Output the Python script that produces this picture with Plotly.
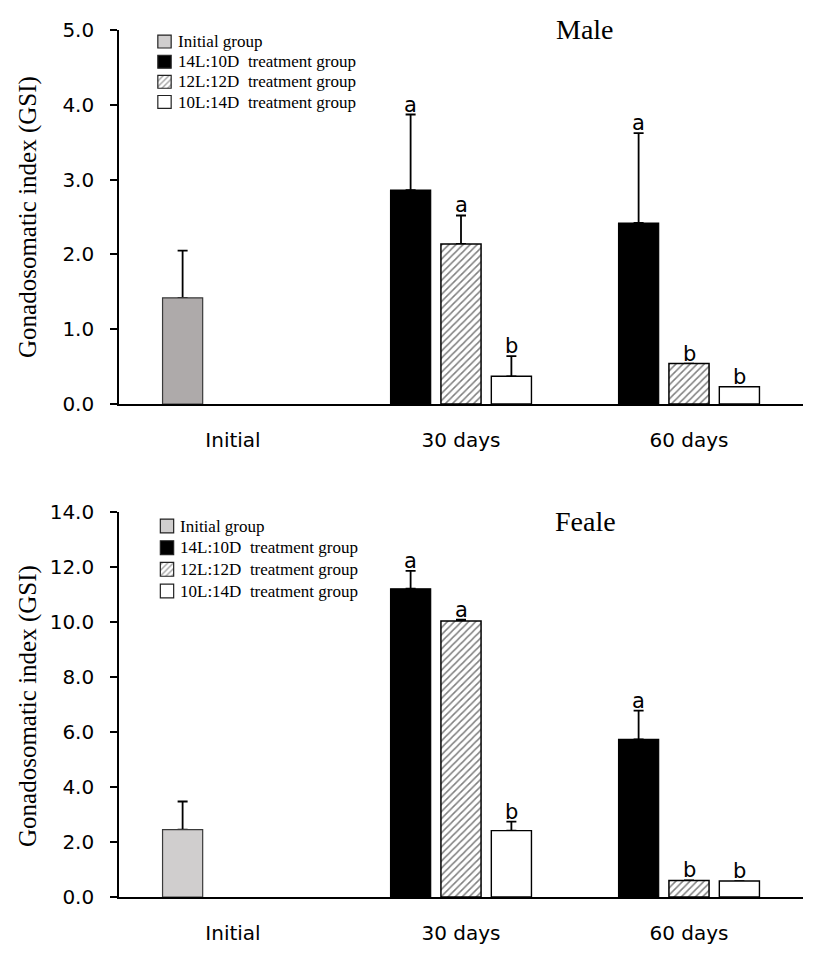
import plotly.graph_objects as go

categories = ["Initial", "30 days", "60 days"]
series_names = ["Initial group", "14L:10D  treatment group", "12L:12D  treatment group", "10L:14D  treatment group"]

# Male GSI
male_initial = [1.42]
male_initial_err = [0.63]
male_14L = [None, 2.86, 2.42]
male_14L_err = [0, 1.01, 1.20]
male_12L = [None, 2.14, 0.54]
male_12L_err = [0, 0.38, 0.0]
male_10L = [None, 0.37, 0.23]
male_10L_err = [0, 0.27, 0.0]
male_letters_14L = [None, "a", "a"]
male_letters_12L = [None, "a", "b"]
male_letters_10L = [None, "b", "b"]

# Female GSI
fem_initial = [2.45]
fem_initial_err = [1.02]
fem_14L = [None, 11.20, 5.73]
fem_14L_err = [0, 0.65, 1.04]
fem_12L = [None, 10.03, 0.60]
fem_12L_err = [0, 0.05, 0.0]
fem_10L = [None, 2.41, 0.58]
fem_10L_err = [0, 0.33, 0.0]
fem_letters_14L = [None, "a", "a"]
fem_letters_12L = [None, "a", "b"]
fem_letters_10L = [None, "b", "b"]

legend_rows = [0, 1, 2, 3]
legend_ones = [1, 1, 1, 1]

# page body has an 8px margin; figure fills the remaining area
OFF = 8
W, H = 827 - 2 * OFF, 961 - 2 * OFF


def px(x):
    return (x - OFF) / W


def py(y):
    return 1 - (y - OFF) / H


pos = [0, 1, 2]
slot = [-0.221, 0.0, 0.221]
bw = 0.176

fig = go.Figure()
err_style = dict(type="data", symmetric=False, color="black", thickness=1.8, width=5)
letter_font = dict(family="DejaVu Sans", size=21, color="black")


def add_bar(xs, ys, errs, marker, name, xa, ya):
    # invisible carrier of the (plus-only) error bars, drawn beneath the visible bar
    fig.add_trace(go.Bar(x=xs, y=ys, width=bw, showlegend=False, hoverinfo="skip",
                         marker=dict(color="rgba(0,0,0,0)", line=dict(width=0)),
                         error_y=dict(array=errs, arrayminus=[0] * len(xs), **err_style),
                         xaxis=xa, yaxis=ya))
    fig.add_trace(go.Bar(x=xs, y=ys, width=bw, name=name, marker=marker, showlegend=False,
                         xaxis=xa, yaxis=ya))


def add_panel(xa, ya, init_v, init_e, init_color, s14, e14, s12, e12, s10, e10, l14, l12, l10):
    add_bar([pos[0] + slot[0]], init_v, init_e,
            dict(color=init_color, line=dict(color="#3a3a3a", width=1.2)), series_names[0], xa, ya)
    specs = [
        (s14, e14, l14, slot[0], dict(color="black", line=dict(color="black", width=1.2)), series_names[1]),
        (s12, e12, l12, slot[1], dict(color="white", line=dict(color="black", width=1.5),
                                      pattern=dict(shape="/", fgcolor="black", bgcolor="white", size=5, solidity=0.3)),
         series_names[2]),
        (s10, e10, l10, slot[2], dict(color="white", line=dict(color="black", width=1.4)), series_names[3]),
    ]
    yref = ya.replace("axis", "")
    for vals, errs, letters, off, mk, nm in specs:
        xs = [p + off for p in pos[1:]]
        add_bar(xs, vals[1:], errs[1:], mk, nm, xa, ya)
        for x, v, e, t in zip(xs, vals[1:], errs[1:], letters[1:]):
            if t:
                fig.add_annotation(x=x, y=v + e, text=t, showarrow=False, xref=xa, yref=yref,
                                   yanchor="bottom", yshift=-4, font=letter_font)


add_panel("x", "y", male_initial, male_initial_err, "#aeaaaa",
          male_14L, male_14L_err, male_12L, male_12L_err, male_10L, male_10L_err,
          male_letters_14L, male_letters_12L, male_letters_10L)
add_panel("x2", "y2", fem_initial, fem_initial_err, "#d0cece",
          fem_14L, fem_14L_err, fem_12L, fem_12L_err, fem_10L, fem_10L_err,
          fem_letters_14L, fem_letters_12L, fem_letters_10L)

# legend swatches drawn as small bars on auxiliary axes
sw_colors = ["#d0cece", "black", "white", "white"]
sw_patterns = ["", "", "/", ""]
for xa, ya in [("x3", "y3"), ("x4", "y4")]:
    fig.add_trace(go.Bar(y=legend_rows, x=legend_ones, orientation="h", width=0.64, showlegend=False,
                         hoverinfo="skip",
                         marker=dict(color=sw_colors, line=dict(color="#222222", width=1.2),
                                     pattern=dict(shape=sw_patterns, fgcolor="#222222", bgcolor="white",
                                                  size=4, solidity=0.35)),
                         xaxis=xa, yaxis=ya))

leg_font = dict(family="Liberation Serif", size=17, color="black")
for (x0, y0, y1) in [(176, 41.5, 102), (178, 526, 591)]:
    step = (y1 - y0) / 3
    for i, nm in enumerate(series_names):
        fig.add_annotation(text=nm, x=px(x0), y=py(y0 + i * step), xref="paper", yref="paper", showarrow=False,
                           xanchor="left", yanchor="middle", font=leg_font)

tickfont = dict(family="DejaVu Sans", size=20, color="black")
xd = [px(119), px(803)]
xcommon = dict(range=[-0.5, 2.5], tickvals=pos, ticktext=categories, showline=True, linecolor="black",
               linewidth=1.6, ticks="", showgrid=False, zeroline=False, tickfont=tickfont, ticklabelstandoff=17,
               automargin=False)
ycommon = dict(tickformat=".1f", showline=True, linecolor="black", linewidth=1.6, ticks="outside", ticklen=7,
               tickwidth=1.6, tickcolor="black", showgrid=False, zeroline=False, tickfont=tickfont,
               ticklabelstandoff=12, automargin=False)
hidden = dict(visible=False, showgrid=False, zeroline=False, fixedrange=True, automargin=False)
fig.update_layout(
    xaxis=dict(domain=xd, anchor="y", **xcommon),
    xaxis2=dict(domain=xd, anchor="y2", **xcommon),
    yaxis=dict(domain=[py(404), py(30)], range=[0, 5], dtick=1, anchor="x", **ycommon),
    yaxis2=dict(domain=[py(897), py(511.7)], range=[0, 14], dtick=2, anchor="x2", **ycommon),
    xaxis3=dict(domain=[px(156.5), px(172.5)], range=[-0.1, 1.1], anchor="y3", **hidden),
    yaxis3=dict(domain=[py(112), py(31.5)], range=[3.5, -0.5], anchor="x3", **hidden),
    xaxis4=dict(domain=[px(159), px(175)], range=[-0.1, 1.1], anchor="y4", **hidden),
    yaxis4=dict(domain=[py(601.8), py(515.2)], range=[3.5, -0.5], anchor="x4", **hidden),
    barmode="overlay",
    width=W, height=H,
    margin=dict(l=0, r=0, t=0, b=0, autoexpand=False),
    paper_bgcolor="white", plot_bgcolor="rgba(0,0,0,0)",
    showlegend=False,
)

title_font = dict(family="Liberation Serif", size=28, color="black")
fig.add_annotation(text="Male", x=px(585), y=py(30), xref="paper", yref="paper", showarrow=False,
                   xanchor="center", yanchor="middle", font=title_font)
fig.add_annotation(text="Feale", x=px(585), y=py(521), xref="paper", yref="paper", showarrow=False,
                   xanchor="center", yanchor="middle", font=title_font)
ytitle_font = dict(family="Liberation Serif", size=25, color="black")
fig.add_annotation(text="Gonadosomatic index (GSI)", x=px(28), y=py(217), xref="paper", yref="paper",
                   showarrow=False, textangle=-90, xanchor="center", yanchor="middle", font=ytitle_font)
fig.add_annotation(text="Gonadosomatic index (GSI)", x=px(28), y=py(706), xref="paper", yref="paper",
                   showarrow=False, textangle=-90, xanchor="center", yanchor="middle", font=ytitle_font)

fig.write_html("out.html")
